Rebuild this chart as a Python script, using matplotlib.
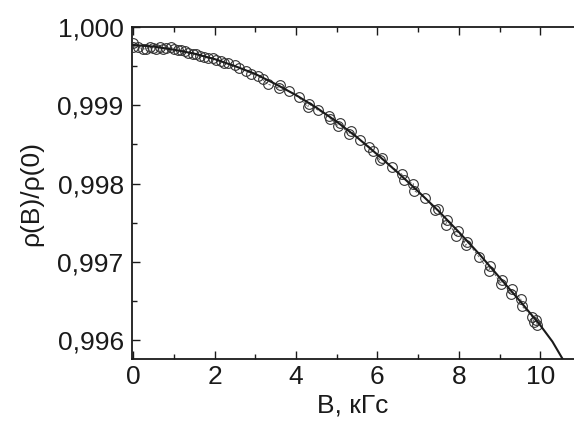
import matplotlib
matplotlib.use("Agg")
import matplotlib.pyplot as plt
from matplotlib.ticker import MultipleLocator, FuncFormatter

plt.rcParams['font.family'] = ['Liberation Sans', 'DejaVu Sans']

# measured points, B in kGs
b_meas = [0.00, 0.00, 0.12, 0.24, 0.32, 0.40, 0.48, 0.56, 0.65, 0.73,
          0.81, 0.93, 1.01, 1.10, 1.18, 1.26, 1.34, 1.46, 1.54, 1.63,
          1.75, 1.83, 1.95, 2.03, 2.16, 2.24, 2.32, 2.49, 2.61, 2.78,
          2.90, 3.06, 3.18, 3.31, 3.58, 3.60, 3.82, 4.07, 4.29, 4.31,
          4.53, 4.80, 4.84, 5.03, 5.07, 5.29, 5.35, 5.57, 5.80, 5.90,
          6.06, 6.11, 6.36, 6.60, 6.66, 6.88, 6.90, 7.17, 7.42, 7.48,
          7.68, 7.72, 7.94, 7.99, 8.17, 8.21, 8.50, 8.74, 8.76, 9.03,
          9.05, 9.27, 9.31, 9.52, 9.56, 9.80, 9.85, 9.89, 9.93]
rho_meas = [0.99979, 0.99975, 0.99974, 0.99972, 0.99972, 0.99974, 0.99973, 0.99972, 0.99974, 0.99972,
            0.99973, 0.99974, 0.99972, 0.99970, 0.99971, 0.99969, 0.99967, 0.99966, 0.99965, 0.99963,
            0.99962, 0.99960, 0.99961, 0.99958, 0.99957, 0.99954, 0.99954, 0.99951, 0.99948, 0.99944,
            0.99940, 0.99938, 0.99933, 0.99927, 0.99922, 0.99926, 0.99918, 0.99910, 0.99898, 0.99902,
            0.99894, 0.99886, 0.99883, 0.99874, 0.99877, 0.99863, 0.99867, 0.99856, 0.99847, 0.99842,
            0.99830, 0.99832, 0.99821, 0.99812, 0.99805, 0.99800, 0.99791, 0.99782, 0.99766, 0.99767,
            0.99747, 0.99753, 0.99733, 0.99739, 0.99721, 0.99725, 0.99706, 0.99688, 0.99694, 0.99672,
            0.99677, 0.99659, 0.99665, 0.99653, 0.99643, 0.99630, 0.99623, 0.99626, 0.99619]

# fitted curve
b_fit = [0.0, 0.5, 1.0, 1.5, 2.0, 2.5, 3.0, 3.5, 4.0, 4.5, 5.0, 5.5,
         6.0, 6.5, 7.0, 7.5, 8.0, 8.5, 9.0, 9.5, 10.0, 10.3, 10.56]
rho_fit = [0.99977, 0.99975, 0.99971, 0.99966, 0.99959, 0.99950, 0.99940, 0.99927,
           0.99913, 0.99897, 0.99879, 0.99859, 0.99837, 0.99814, 0.99790, 0.99765,
           0.99738, 0.99710, 0.99680, 0.99650, 0.99619, 0.99598, 0.99575]

ink = '#1a1a1a'

fig = plt.figure(figsize=(5.74, 4.24), dpi=100)
ax = fig.add_axes([0.23, 0.1526, 0.77, 0.7837])

ax.plot(b_meas, rho_meas, color='#555555', lw=0.6, dashes=(3, 2), zorder=2)
ax.plot(b_meas, rho_meas, ls='none', marker='o', ms=7, mfc='none',
        mec='#333333', mew=0.8, zorder=3)
ax.plot(b_fit, rho_fit, color=ink, lw=1.5, zorder=4)

ax.set_xlim(-0.03, 10.83)
ax.set_ylim(0.995754, 1.0)

ax.spines['right'].set_visible(False)
for s in ['left', 'bottom', 'top']:
    ax.spines[s].set_linewidth(1.3)
    ax.spines[s].set_color(ink)

ax.xaxis.set_major_locator(MultipleLocator(2))
ax.xaxis.set_minor_locator(MultipleLocator(1))
ax.yaxis.set_major_locator(MultipleLocator(0.001))
ax.yaxis.set_minor_locator(MultipleLocator(0.0005))
ax.yaxis.set_major_formatter(FuncFormatter(lambda v, p: f'{v:.3f}'.replace('.', ',')))

ax.tick_params(which='both', direction='in', top=True, right=False, color=ink,
               labelsize=19, labelcolor=ink, width=1.0)
ax.tick_params(which='major', length=6, pad=6)
ax.tick_params(which='minor', length=3.5)
ax.tick_params(axis='x', which='major', pad=4)

ax.set_xlabel('B, кГс', fontsize=19, color=ink, labelpad=3)
ax.set_ylabel('ρ(B)/ρ(0)', fontsize=19, color=ink, labelpad=10)

fig.savefig('out.png', dpi=100)
